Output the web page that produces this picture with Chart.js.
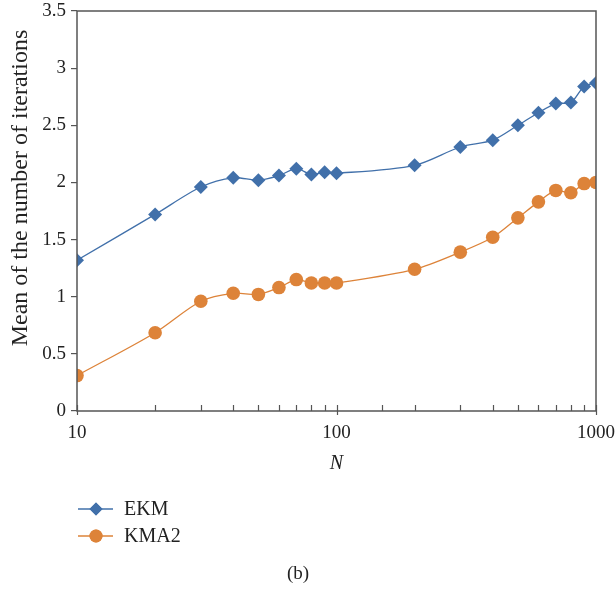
<!DOCTYPE html>
<html><head><meta charset="utf-8">
<script src="https://cdn.jsdelivr.net/npm/chart.js@4/dist/chart.umd.min.js"></script>
<style>html,body{margin:0;padding:0;background:#fff}#wrap{width:615px;height:589px}</style>
</head><body><div id="wrap"><canvas id="c" width="615" height="589"></canvas></div>
<script>
const nValues = [10,20,30,40,50,60,70,80,90,100,200,300,400,500,600,700,800,900,1000];
const ekm  = [1.32,1.72,1.96,2.04,2.02,2.06,2.12,2.07,2.09,2.08,2.15,2.31,2.37,2.50,2.61,2.69,2.70,2.84,2.87];
const kma2 = [0.31,0.685,0.96,1.03,1.02,1.08,1.15,1.12,1.12,1.12,1.24,1.39,1.52,1.69,1.83,1.93,1.91,1.99,2.00];
const xMajorLabels = [10,100,1000];
const seriesNames = ['EKM','KMA2'];
const yTitle = 'Mean of the number of iterations';
const caption = '(b)';

const BLUE = '#4170aa', ORANGE = '#dd8339', AXIS = '#555';
const FONT = '"Liberation Serif", "DejaVu Serif", serif';

const framePlugin = {
  id: 'frame',
  afterDraw(chart) {
    const ctx = chart.ctx, a = chart.chartArea, xs = chart.scales.x;
    ctx.save();
    ctx.strokeStyle = AXIS; ctx.lineWidth = 1.5;
    ctx.strokeRect(a.left, a.top, a.right - a.left, a.bottom - a.top);
    ctx.lineWidth = 1.2;
    xs.ticks.forEach(t => {
      const px = Math.round(xs.getPixelForValue(t.value)) + 0.5;
      const major = xMajorLabels.includes(t.value);
      ctx.beginPath();
      ctx.moveTo(px, a.bottom - 6);
      ctx.lineTo(px, a.bottom + (major ? 4 : 0));
      ctx.stroke();
    });
    // y title
    ctx.save();
    ctx.translate(21, 188);
    ctx.rotate(-Math.PI / 2);
    ctx.fillStyle = '#222';
    ctx.font = '24px ' + FONT;
    ctx.textAlign = 'center'; ctx.textBaseline = 'middle';
    ctx.fillText(yTitle, 0, 0);
    ctx.restore();
    const items = [
      {label: seriesNames[0], color: BLUE, style: 'rectRot', r: 6.5, y: 509},
      {label: seriesNames[1], color: ORANGE, style: 'circle', r: 6.5, y: 536}
    ];
    items.forEach(it => {
      ctx.strokeStyle = it.color; ctx.lineWidth = 1.3;
      ctx.beginPath(); ctx.moveTo(78, it.y); ctx.lineTo(113, it.y); ctx.stroke();
      ctx.fillStyle = it.color;
      Chart.helpers.drawPoint(ctx, {pointStyle: it.style, radius: it.r, borderWidth: 0}, 96, it.y);
      ctx.fill();
      ctx.fillStyle = '#222';
      ctx.font = '20px ' + FONT;
      ctx.textBaseline = 'middle'; ctx.textAlign = 'left';
      ctx.fillText(it.label, 124, it.y + 1);
    });
    ctx.font = '19px ' + FONT;
    ctx.textAlign = 'center';
    ctx.fillText(caption, 298, 574);
    ctx.restore();
  }
};

new Chart(document.getElementById('c'), {
  type: 'line',
  data: {
    datasets: [
      {label: seriesNames[0], data: nValues.map((n,i)=>({x:n,y:ekm[i]})), borderColor: BLUE, backgroundColor: BLUE,
       borderWidth: 1.3, pointStyle: 'rectRot', pointRadius: 7, pointBorderWidth: 0, tension: 0.3},
      {label: seriesNames[1], data: nValues.map((n,i)=>({x:n,y:kma2[i]})), borderColor: ORANGE, backgroundColor: ORANGE,
       borderWidth: 1.3, pointStyle: 'circle', pointRadius: 6.8, pointBorderWidth: 0, tension: 0.3}
    ]
  },
  options: {
    responsive: false, animation: false,
    layout: {padding: {left: 0, right: 19, top: 11, bottom: 111}},
    plugins: {legend: {display: false}, tooltip: {enabled: false}},
    scales: {
      x: {
        type: 'logarithmic', min: 10, max: 1000,
        afterFit(s) { s.height = 67; s.paddingLeft = 0; s.paddingRight = 0; },
        grid: {display: false, drawTicks: false},
        border: {display: false},
        ticks: {
          autoSkip: false, maxRotation: 0, padding: 11, color: '#222',
          font: {family: FONT, size: 19},
          callback: v => xMajorLabels.includes(v) ? String(v) : ''
        },
        title: {display: true, text: 'N', color: '#222', font: {family: FONT, size: 20, style: 'italic'}, padding: {top: 4, bottom: 2}}
      },
      y: {
        min: 0, max: 3.5,
        afterFit(s) { s.width = 77; s.paddingTop = 0; s.paddingBottom = 0; },
        grid: {drawOnChartArea: false, tickLength: 6, color: AXIS, lineWidth: 1.2},
        border: {display: false},
        ticks: {stepSize: 0.5, padding: 5, color: '#222', font: {family: FONT, size: 19},
          callback: v => String(Math.round(v * 10) / 10)},
        title: {display: false}
      }
    }
  },
  plugins: [framePlugin]
});
</script></body></html>
